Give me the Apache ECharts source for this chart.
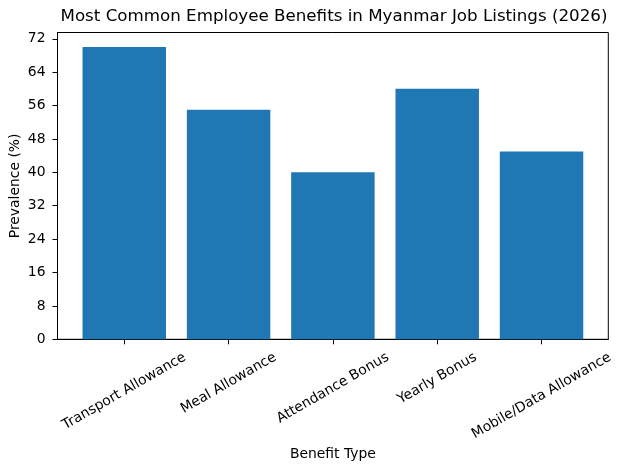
<!DOCTYPE html>
<html>
<head>
<meta charset="utf-8">
<script src="https://cdn.jsdelivr.net/npm/echarts@6/dist/echarts.min.js"></script>
<style>
  html, body { margin: 0; padding: 0; background: #fff; }
  #main { width: 623px; height: 470px; }
</style>
</head>
<body>
<div id="main"></div>
<script>
var categories = ['Transport Allowance', 'Meal Allowance', 'Attendance Bonus', 'Yearly Bonus', 'Mobile/Data Allowance']
var prevalence = [70, 55, 40, 60, 45]
var yTicks = [0, 8, 16, 24, 32, 40, 48, 56, 64, 72]
var xTicks = [0, 1, 2, 3, 4]

var font = 'DejaVu Sans'
var labelSize = 13.9
var gridLeft = 57.5, gridRight = 14.7
var xMin = -0.64, xMax = 4.64
var chartW = 623
var unitPx = (chartW - gridLeft - gridRight) / (xMax - xMin)

// matplotlib centres rotated tick labels under the tick, top of the rotated box at a fixed gap.
// shift each label along its own frame with padding so its centre lands where matplotlib puts it
var ctx = document.createElement('canvas').getContext('2d')
ctx.font = labelSize + 'px ' + font
var ks = categories.map(function (c) {
  return (ctx.measureText(c).width * 0.5 + 16 * 0.866) / 2
})
var kMid = (Math.min.apply(null, ks) + Math.max.apply(null, ks)) / 2
var rich = {}
ks.forEach(function (k, i) {
  var d = k - kMid
  var pad = d >= 0 ? [1.732 * d, d, 0, 0] : [0, 0, -1.732 * d, -d]
  rich['r' + i] = { padding: pad, fontSize: labelSize, fontFamily: font, color: '#000', lineHeight: 16 }
})

var dom = document.getElementById('main')
var myChart = echarts.init(dom)
var option = {
  animation: false,
  backgroundColor: '#fff',
  title: {
    text: 'Most Common Employee Benefits in Myanmar Job Listings (2026)',
    left: 55.5,
    top: 3,
    textStyle: { fontFamily: font, fontSize: 16.7, fontWeight: 'normal', color: '#000' },
  },
  grid: {
    left: gridLeft, right: gridRight, top: 32.5, bottom: 130.7,
    outerBoundsMode: 'none',
    containLabel: false,
    show: true, borderColor: '#000', borderWidth: 1, backgroundColor: 'transparent',
  },
  xAxis: {
    type: 'value',
    min: xMin,
    max: xMax,
    name: 'Benefit Type',
    nameLocation: 'middle',
    nameGap: 108,
    nameMoveOverlap: false,
    nameTextStyle: { fontFamily: font, fontSize: labelSize, color: '#000' },
    axisLine: { show: true, onZero: false, lineStyle: { color: '#000', width: 1 } },
    axisTick: { show: true, length: 5, lineStyle: { color: '#000' }, customValues: xTicks },
    splitLine: { show: false },
    axisLabel: {
      customValues: xTicks,
      showMinLabel: true,
      showMaxLabel: true,
      hideOverlap: false,
      rotate: 30,
      align: 'center',
      verticalAlign: 'middle',
      margin: 10 + kMid,
      formatter: function (v) { return '{r' + v + '|' + categories[v] + '}' },
      rich: rich,
    },
  },
  yAxis: {
    type: 'value',
    min: 0,
    max: 73.5,
    name: 'Prevalence (%)',
    nameLocation: 'middle',
    nameGap: 35,
    nameMoveOverlap: false,
    nameTextStyle: { fontFamily: font, fontSize: labelSize, color: '#000' },
    axisLine: { show: true, onZero: false, lineStyle: { color: '#000', width: 1 } },
    axisTick: { show: true, length: 5, lineStyle: { color: '#000' }, customValues: yTicks },
    splitLine: { show: false },
    axisLabel: {
      customValues: yTicks,
      margin: 12,
      fontFamily: font,
      fontSize: labelSize,
      color: '#000',
    },
  },
  series: [
    {
      type: 'bar',
      data: prevalence.map(function (v, i) { return [i, v] }),
      barWidth: 0.8 * unitPx,
      itemStyle: { color: '#1f77b4' },
    },
  ],
}
myChart.setOption(option, true)
</script>
</body>
</html>
